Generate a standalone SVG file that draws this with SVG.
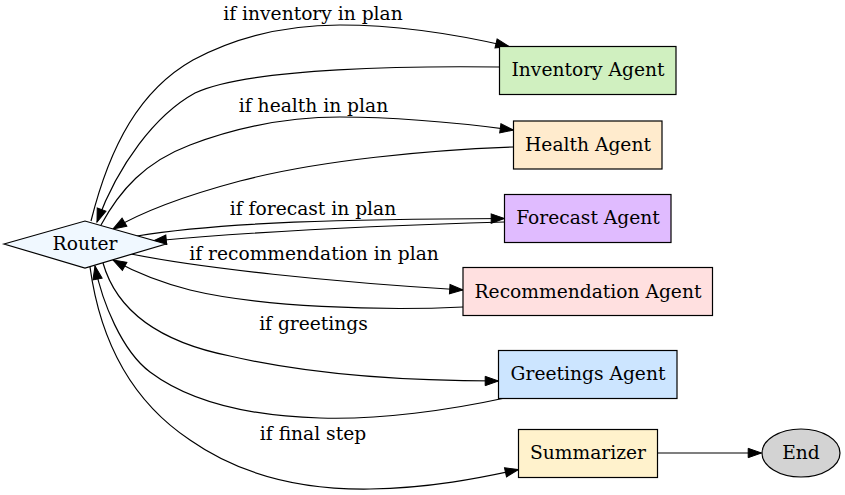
<svg xmlns="http://www.w3.org/2000/svg" width="845" height="495" viewBox="0 0 845 495">
<defs>
<style>
text{font-family:"DejaVu Serif","Liberation Serif",serif;font-size:18.67px;fill:#000;text-anchor:middle}
.n{stroke:#000;stroke-width:1.2}
.e{fill:none;stroke:#000;stroke-width:1.2;marker-end:url(#ah)}
</style>
<marker id="ah" markerUnits="userSpaceOnUse" markerWidth="15" markerHeight="11" refX="13.3" refY="4.67" orient="auto" overflow="visible">
<path d="M0,0 L13.3,4.67 L0,9.33 z" fill="#000" stroke="#000" stroke-width="1"/>
</marker>
</defs>
<rect width="845" height="495" fill="#fff"/>
<g id="connectors">
<path class="e" d="M91,221 C110,145 140,90 193,60 C240,35 290,25 340,25 C400,25 455,34 509,46.5"/>
<path class="e" d="M499.5,67 C420,66 250,67 195,93 C155,115 118,165 97,222"/>
<path class="e" d="M101,225 C120,190 145,162 190,145 C240,126 290,117 340,117 C400,117 460,123 513.5,130"/>
<path class="e" d="M513.5,147 C430,150 320,160 240,181 C180,197 140,213 113,229"/>
<path class="e" d="M137,236 C220,222 350,219 504.5,218.5"/>
<path class="e" d="M504.5,222 C400,225 260,231 153,241"/>
<path class="e" d="M131,254 C200,268 330,282 463,290"/>
<path class="e" d="M463,307 C380,311 260,307 190,290 C155,281 133,271 113,260"/>
<path class="e" d="M103,263 C115,305 150,340 230,356 C290,370 380,381 498.5,381"/>
<path class="e" d="M505,398 C450,410 380,420 320,418 C250,416 190,402 150,372 C122,351 102,302 95,266"/>
<path class="e" d="M90,267 C100,340 130,400 190,440 C240,475 300,490 370,489 C430,488 480,478 518.5,469.5"/>
<path class="e" d="M657.5,453 L761.5,453"/>
<text x="313" y="20">if inventory in plan</text>
<text x="313.5" y="111.5">if health in plan</text>
<text x="313" y="215">if forecast in plan</text>
<text x="314" y="259.5">if recommendation in plan</text>
<text x="313.5" y="330">if greetings</text>
<text x="313" y="440">if final step</text>
</g>
<g id="router">
<polygon class="n" points="4,244 85,221 166,244 85,268" fill="#f0f8ff"/>
<text x="85" y="250">Router</text>
</g>
<g id="inventory">
<rect class="n" x="499.5" y="46.5" width="176.5" height="48" fill="#d0f0c0"/>
<text x="588" y="76">Inventory Agent</text>
</g>
<g id="health">
<rect class="n" x="513.5" y="121" width="148.5" height="48" fill="#ffebcd"/>
<text x="588" y="150.5">Health Agent</text>
</g>
<g id="forecast">
<rect class="n" x="504.5" y="194.5" width="166.5" height="48" fill="#e0bbff"/>
<text x="588" y="224.3">Forecast Agent</text>
</g>
<g id="recommendation">
<rect class="n" x="463" y="267.5" width="249.5" height="48" fill="#ffe0e0"/>
<text x="588" y="297.5">Recommendation Agent</text>
</g>
<g id="greetings">
<rect class="n" x="498.5" y="350.5" width="178.5" height="48" fill="#cce5ff"/>
<text x="588" y="379.5">Greetings Agent</text>
</g>
<g id="summarizer">
<rect class="n" x="518.5" y="429.5" width="139" height="48" fill="#fff2cc"/>
<text x="588" y="458.5">Summarizer</text>
</g>
<g id="end">
<ellipse class="n" cx="801" cy="453" rx="39" ry="24" fill="#d3d3d3"/>
<text x="801" y="458.5">End</text>
</g>
</svg>
